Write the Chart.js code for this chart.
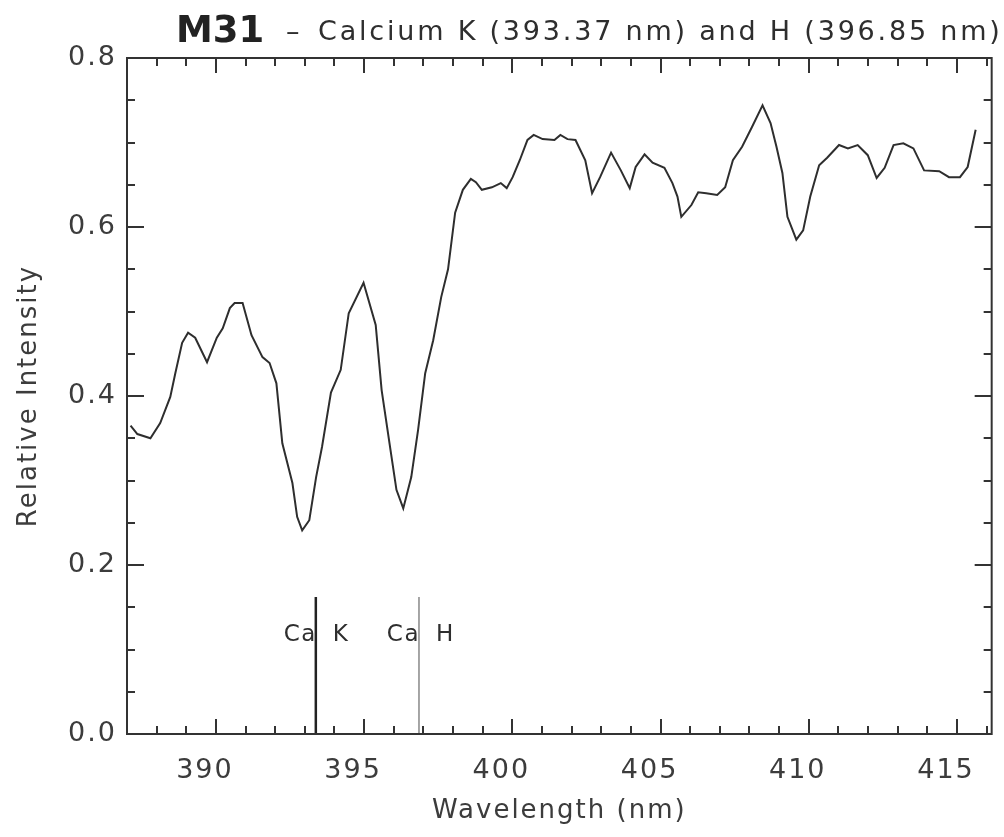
<!DOCTYPE html>
<html>
<head>
<meta charset="utf-8">
<title>M31 - Calcium K and H</title>
<script src="https://cdn.jsdelivr.net/npm/chart.js@4.4.1/dist/chart.umd.min.js"></script>
<style>
  html, body { margin: 0; padding: 0; background: #fff; }
  #wrap { width: 1004px; height: 837px; }
</style>
</head>
<body>
<div id="wrap"><canvas id="spectrum" width="1004" height="837"></canvas></div>
<script>
// spectrum
const wavelength = [
  387.12, 387.35, 387.79, 388.12, 388.46, 388.63, 388.86, 389.06, 389.30, 389.70,
  390.03, 390.23, 390.47, 390.63, 390.90, 391.20, 391.57, 391.81, 392.04, 392.24,
  392.58, 392.74, 392.91, 393.15, 393.38, 393.58, 393.88, 394.21, 394.48, 394.98,
  395.39, 395.59, 395.89, 396.09, 396.32, 396.59, 396.82, 397.06, 397.33, 397.60,
  397.83, 398.07, 398.33, 398.60, 398.77, 398.97, 399.31, 399.61, 399.81, 400.01,
  400.25, 400.51, 400.72, 401.02, 401.42, 401.62, 401.86, 402.13, 402.46, 402.69,
  402.96, 403.33, 403.66, 403.96, 404.16, 404.46, 404.73, 405.13, 405.40, 405.57,
  405.70, 406.04, 406.27, 406.54, 406.91, 407.18, 407.44, 407.75, 408.08, 408.44,
  408.71, 408.91, 409.11, 409.28, 409.58, 409.81, 410.05, 410.35, 410.62, 411.02,
  411.32, 411.65, 411.99, 412.29, 412.56, 412.86, 413.19, 413.53, 413.89, 414.40,
  414.73, 415.10, 415.36, 415.63
];
const intensity = [
  0.365, 0.355, 0.350, 0.368, 0.399, 0.427, 0.463, 0.475, 0.469, 0.440,
  0.469, 0.480, 0.504, 0.510, 0.510, 0.472, 0.446, 0.439, 0.415, 0.344,
  0.297, 0.257, 0.241, 0.253, 0.304, 0.340, 0.404, 0.431, 0.498, 0.534,
  0.484, 0.407, 0.336, 0.289, 0.267, 0.304, 0.360, 0.427, 0.466, 0.517,
  0.550, 0.617, 0.644, 0.657, 0.653, 0.644, 0.647, 0.652, 0.646, 0.659,
  0.679, 0.703, 0.709, 0.704, 0.703, 0.709, 0.704, 0.703, 0.679, 0.640,
  0.659, 0.688, 0.667, 0.646, 0.671, 0.686, 0.676, 0.670, 0.652, 0.636,
  0.612, 0.626, 0.641, 0.640, 0.638, 0.647, 0.679, 0.695, 0.718, 0.744,
  0.723, 0.695, 0.664, 0.612, 0.585, 0.596, 0.636, 0.673, 0.682, 0.697,
  0.693, 0.697, 0.685, 0.658, 0.670, 0.697, 0.699, 0.693, 0.667, 0.666,
  0.659, 0.659, 0.671, 0.715
];

// calcium marker lines
const caLines = [393.37, 396.85];
const caNames = ['K', 'H'];
const caHeight = 0.162;

// axes
const xTicks = [390, 395, 400, 405, 410, 415];
const yTicks = [0.0, 0.2, 0.4, 0.6, 0.8];
const xRange = [387.0, 416.17];
const yRange = [0, 0.8];

const FONT = 'DejaVu Sans';
const INK = '#2e2e2e';
const LABEL = '#3c3c3c';

const spectrum = wavelength.map((w, i) => ({ x: w, y: intensity[i] }));

// letter spacing for all canvas text (the original uses a wide vector font)
const spacing = {
  id: 'spacing',
  beforeDraw(chart) { chart.ctx.letterSpacing = '2px'; }
};

// box with inward ticks on all four sides, title and Ca labels
const frame = {
  id: 'frame',
  afterDraw(chart) {
    const { ctx, chartArea: a, scales: { x, y } } = chart;
    ctx.save();
    ctx.strokeStyle = '#333';
    ctx.lineWidth = 2;
    ctx.strokeRect(a.left, a.top, a.right - a.left, a.bottom - a.top);

    ctx.beginPath();
    for (let v = Math.ceil(x.min); v <= x.max; v++) {
      const px = Math.round(x.getPixelForValue(v));
      const len = v % 5 === 0 ? 15 : 8;
      ctx.moveTo(px, a.bottom); ctx.lineTo(px, a.bottom - len);
      ctx.moveTo(px, a.top); ctx.lineTo(px, a.top + len);
    }
    for (let i = 1; i < 16; i++) {
      const v = i * 0.05;
      const py = Math.round(y.getPixelForValue(v));
      const len = i % 4 === 0 ? 17 : 8;
      ctx.moveTo(a.left, py); ctx.lineTo(a.left + len, py);
      ctx.moveTo(a.right, py); ctx.lineTo(a.right - len, py);
    }
    ctx.stroke();

    // Ca K / Ca H labels
    ctx.fillStyle = INK;
    ctx.font = '23px "' + FONT + '"';
    ctx.letterSpacing = '1.5px';
    ctx.textBaseline = 'middle';
    const ly = y.getPixelForValue(0.12);
    caLines.forEach((w, i) => {
      const px = x.getPixelForValue(w);
      ctx.textAlign = 'right';
      ctx.fillText('Ca', px + 1, ly + 2);
      ctx.textAlign = 'left';
      ctx.fillText(caNames[i], px + 17, ly + 2);
    });

    // title
    ctx.textBaseline = 'alphabetic';
    ctx.textAlign = 'left';
    ctx.letterSpacing = '0px';
    ctx.fillStyle = '#222';
    ctx.font = 'bold 37px "' + FONT + '"';
    ctx.fillText('M31', 176, 42);
    ctx.font = '27px "' + FONT + '"';
    ctx.fillStyle = INK;
    ctx.fillText('\u2013', 286, 40);
    const sub = 'Calcium K (393.37 nm) and H (396.85 nm)';
    const w0 = ctx.measureText(sub).width;
    ctx.letterSpacing = ((682 - w0) / (sub.length - 1)).toFixed(2) + 'px';
    ctx.fillText(sub, 318, 40);
    ctx.restore();
  }
};

new Chart(document.getElementById('spectrum'), {
  type: 'line',
  data: {
    datasets: [
      {
        label: 'M31',
        data: spectrum,
        borderColor: INK,
        borderWidth: 2,
        pointRadius: 0,
        tension: 0
      },
      {
        label: 'Ca K',
        data: [{ x: caLines[0], y: 0 }, { x: caLines[0], y: caHeight }],
        borderColor: '#222',
        borderWidth: 2.5,
        pointRadius: 0
      },
      {
        label: 'Ca H',
        data: [{ x: caLines[1], y: 0 }, { x: caLines[1], y: caHeight }],
        borderColor: '#888',
        borderWidth: 1.5,
        pointRadius: 0
      }
    ]
  },
  options: {
    responsive: false,
    animation: false,
    layout: { padding: { top: 58, right: 6, left: 0, bottom: 0 } },
    plugins: {
      legend: { display: false },
      tooltip: { enabled: false },
      title: { display: false }
    },
    scales: {
      x: {
        type: 'linear',
        min: xRange[0],
        max: xRange[1],
        grid: { display: false, drawTicks: false },
        border: { display: false },
        afterBuildTicks: (s) => { s.ticks = xTicks.map(v => ({ value: v })); },
        afterFit: (s) => { s.height = 103; },
        ticks: {
          color: LABEL,
          font: { family: FONT, size: 27 },
          padding: 21,
          labelOffset: -11,
          maxRotation: 0,
          callback: (v) => String(v)
        },
        title: {
          display: true,
          text: 'Wavelength (nm)',
          color: LABEL,
          font: { family: FONT, size: 26 },
          padding: { top: 0, bottom: 10 }
        }
      },
      y: {
        type: 'linear',
        min: yRange[0],
        max: yRange[1],
        grid: { display: false, drawTicks: false },
        border: { display: false },
        afterBuildTicks: (s) => { s.ticks = yTicks.map(v => ({ value: v })); },
        afterFit: (s) => { s.width = 127; },
        ticks: {
          color: LABEL,
          font: { family: FONT, size: 27 },
          padding: 10,
          callback: (v) => v.toFixed(1)
        },
        title: {
          display: true,
          text: 'Relative Intensity',
          color: LABEL,
          font: { family: FONT, size: 26 },
          padding: { top: 14, bottom: 0 }
        }
      }
    }
  },
  plugins: [spacing, frame]
});
</script>
</body>
</html>
